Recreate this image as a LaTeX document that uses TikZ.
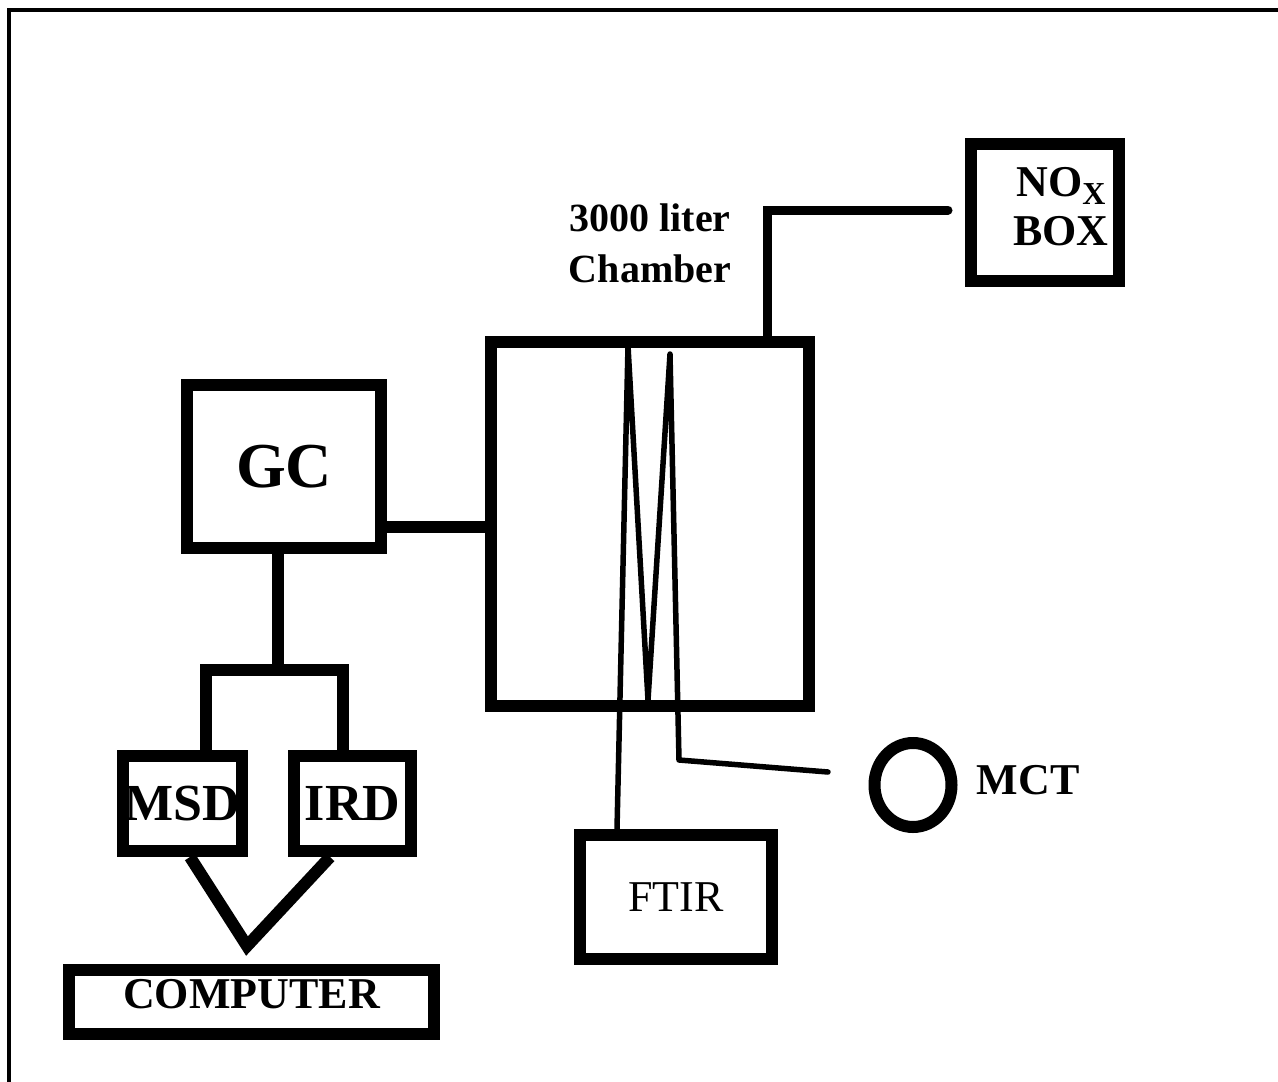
\documentclass[tikz,border=0pt]{standalone}
\usepackage{fontspec}
\setmainfont{Liberation Serif}
\usetikzlibrary{positioning,shapes.geometric}

\begin{document}
\begin{tikzpicture}[x=1pt, y=-1pt, node distance=19pt,
  unit/.style={draw, line width=12pt, inner sep=0pt},
  lbl/.style={font=\fontsize{#1}{#1}\selectfont\bfseries, inner sep=0pt},
  pipe/.style={line width=12pt},
  beam/.style={line width=5.5pt, line join=round, line cap=round}]
\useasboundingbox (0,0) rectangle (1278,1082);
\draw[line width=4pt] (1278,9.5) -- (9,9.5) -- (9,1082);

% chamber and the instruments round it
\node[unit, minimum width=318, minimum height=364] (chamber) at (650,524) {};
\node[lbl=40, align=center, font=\fontsize{40}{51}\selectfont\bfseries, above=53pt of chamber] (chambertag) {3000 liter\\Chamber};
\node[unit, minimum width=148, minimum height=137] (nox) at (1045,212.5) {};
\node[lbl=44, align=center, font=\fontsize{44}{49}\selectfont\bfseries] (noxtag) at ([xshift=16, yshift=6]nox.center)
  {NO\raisebox{-8pt}{\fontsize{32}{32}\selectfont X}\\BOX};
\node[unit, lbl=64, minimum width=194, minimum height=163] (gc) at (284,466.5) {GC};
\node[unit, lbl=52, minimum width=119, minimum height=95] (msd) at (182.5,803.5) {MSD};
\node[unit, lbl=52, minimum width=117, minimum height=95] (ird) at (352.5,803.5) {IRD};
\node[unit, lbl=44, text depth=17pt, minimum width=365, minimum height=64] (computer) at (251.5,1002) {COMPUTER};
\node[unit, font=\fontsize{44}{44}\selectfont, minimum width=192, minimum height=124] (ftir) at (676,897) {FTIR};
\node[unit, ellipse, minimum width=77, minimum height=84] (mct) at (913,785) {};
\node[lbl=44, right=19pt of mct, yshift=5pt] (mcttag) {MCT};

% lines
\coordinate (noxend) at ([xshift=-17, yshift=2.5]nox.west);
\draw[line width=9pt, line cap=round] ([xshift=117]chamber.north) |- (noxend);
\draw[pipe] ([yshift=-60]gc.east) -- ([yshift=-60]gc.east -| chamber.west);
\coordinate (fork) at (278,670);
\draw[pipe] ([xshift=-6]gc.south) -- (fork);
\draw[pipe] ([xshift=23.5]msd.north) |- (fork) -| ([xshift=-9.5]ird.north);
\draw[pipe] ([xshift=7.5]msd.south) -- ([xshift=-4.5, yshift=18]computer.north) -- ([xshift=-22.5]ird.south);

% beam path
\coordinate (ftirin) at ([xshift=-59]ftir.north);
\coordinate (mctend) at ([xshift=-40.5, yshift=13]mct.west);
\draw[beam] (ftirin) -- (628,346) -- (648,700) -- (670,354) -- (679,760) -- (mctend);
\end{tikzpicture}
\end{document}
